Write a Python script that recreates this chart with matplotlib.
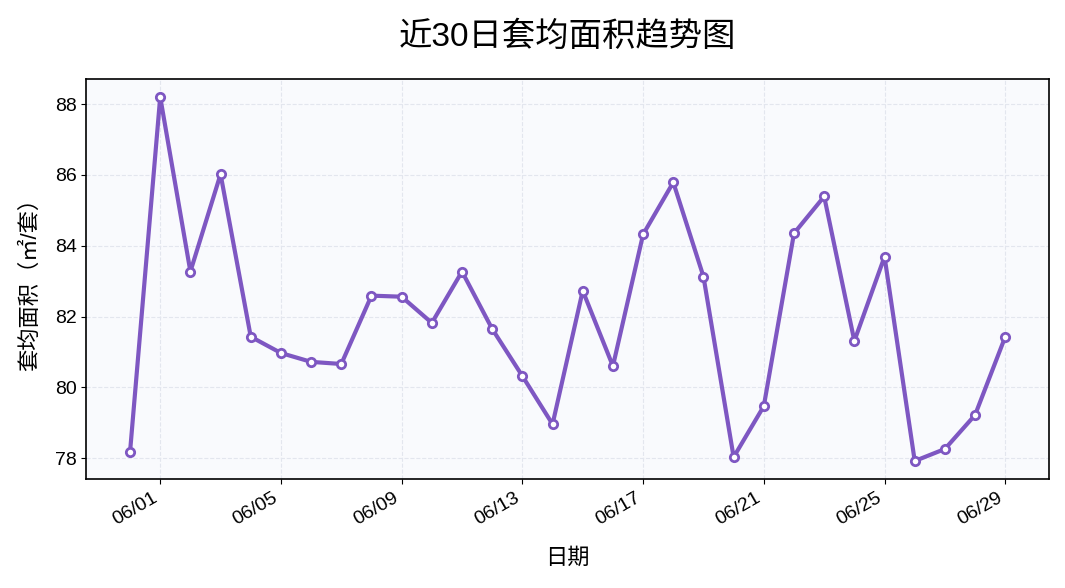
import matplotlib
matplotlib.use("Agg")
import matplotlib.pyplot as plt
import matplotlib.dates as mdates
import numpy as np
import pandas as pd

plt.rcParams['font.family'] = ['Liberation Sans', 'Noto Sans CJK SC', 'DejaVu Sans']
plt.rcParams['axes.unicode_minus'] = False

dates = pd.date_range("2024-05-31", "2024-06-29", freq="D")
avg_area = [78.17, 88.20, 83.27, 86.02, 81.43, 80.97, 80.72, 80.66, 82.59, 82.56,
            81.82, 83.27, 81.65, 80.32, 78.96, 82.73, 80.60, 84.32, 85.79, 83.13,
            78.03, 79.47, 84.35, 85.39, 81.31, 83.69, 77.92, 78.26, 79.22, 81.43]

fig, ax = plt.subplots(figsize=(10.65, 5.88), dpi=100)
ax.set_facecolor("#f9fafd")
ax.plot(dates, avg_area, color="#7e57c2", linewidth=3, marker="o", markersize=6,
        markerfacecolor="white", markeredgecolor="#7e57c2", markeredgewidth=2)

ax.grid(True, linestyle="--", color="#e3e6ee", linewidth=0.8)
ax.xaxis.set_major_locator(mdates.DayLocator(bymonthday=range(1, 32, 4)))
ax.xaxis.set_major_formatter(mdates.DateFormatter("%m/%d"))
ax.tick_params(labelsize=14)
for s in ax.spines.values():
    s.set_linewidth(1.2)

ax.set_title("近30日套均面积趋势图", fontsize=24, pad=24)
ax.set_xlabel("日期", fontsize=16, labelpad=14)
ax.set_ylabel("套均面积（㎡/套）", fontsize=16, labelpad=10)
fig.autofmt_xdate()
fig.subplots_adjust(left=0.081, right=0.985, top=0.866, bottom=0.185)
fig.savefig("out.png")
